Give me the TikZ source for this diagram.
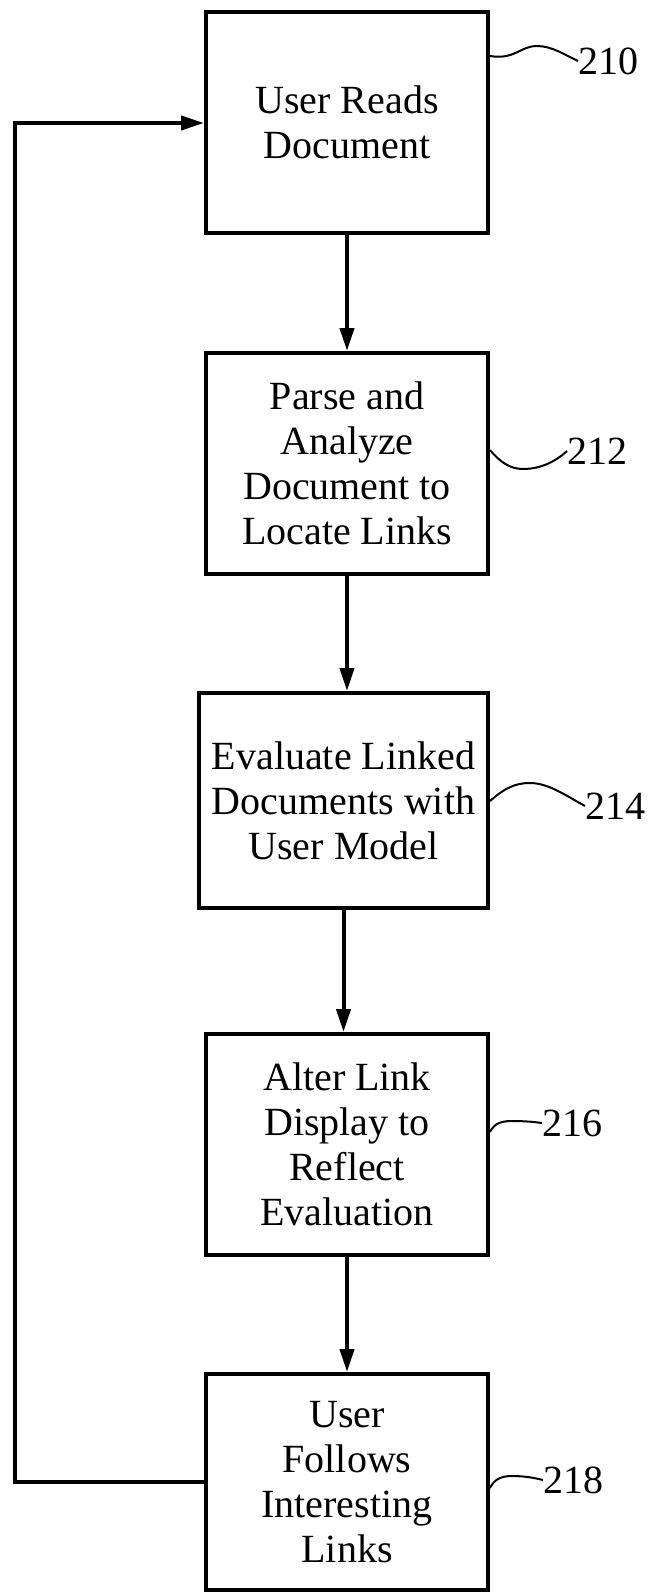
\documentclass[tikz,border=0pt]{standalone}
\usepackage{fontspec}
\setmainfont{Liberation Serif}
\usetikzlibrary{arrows.meta,calc}
\begin{document}
\begin{tikzpicture}[x=1pt,y=-1pt,
  box/.style={draw,line width=4pt,rectangle,inner sep=0pt,align=center,font=\fontsize{40}{45}\selectfont},
  arr/.style={line width=4pt,-{Triangle[length=23pt,width=14pt]}},
  lead/.style={line width=2pt},
  num/.style={anchor=west,inner sep=0pt,font=\fontsize{40}{45}\selectfont}]
\path[use as bounding box] (0,0) rectangle (649,1593);

\node[box,minimum width=282pt,minimum height=221pt] (b210) at (347,122.5) {User Reads\\Document};
\node[box,minimum width=282pt,minimum height=221pt] (b212) at (347,463.5) {Parse and\\Analyze\\Document to\\Locate Links};
\node[box,minimum width=289pt,minimum height=215pt] (b214) at (343.5,800.5) {Evaluate Linked\\Documents with\\User Model};
\node[box,minimum width=282pt,minimum height=221pt] (b216) at (347,1144.5) {Alter Link\\Display to\\Reflect\\Evaluation};
\node[box,minimum width=282pt,minimum height=216pt] (b218) at (347,1482) {User\\Follows\\Interesting\\Links};

\node[num] (l210) at (578,61) {210};
\node[num] (l212) at (567,451) {212};
\node[num] (l214) at (585,806) {214};
\node[num] (l216) at (542,1123) {216};
\node[num] (l218) at (543,1480) {218};

\draw[arr] (b210) -- (b212);
\draw[arr] (b212.south) -- (b212.south |- b214.north);
\draw[arr] (b214.south) -- (b214.south |- b216.north);
\draw[arr] (b216) -- (b218);

\coordinate (lt) at (15,123);
\draw[arr] (b218.west) -- (b218.west -| lt) -- (lt) -- (lt -| b210.west);

\draw[lead] ($(b210.north east)+(0,46)$) .. controls (515,60) and (520,46) .. (537,46) .. controls (552,46) and (565,55) .. (l210.west);
\draw[lead] ($(b212.north east)+(0,99)$) .. controls (500,462) and (510,469) .. (523,469) .. controls (540,469) and (555,462) .. (l212.west);
\draw[lead] ($(b214.north east)+(0,110)$) .. controls (505,788) and (515,783) .. (530,783) .. controls (548,783) and (565,795) .. (l214.west);
\draw[lead] ($(b216.north east)+(0,100)$) .. controls (494,1124) and (500,1121) .. (512,1121) .. controls (525,1121) and (535,1122) .. (l216.west);
\draw[lead] ($(b218.north east)+(0,116)$) .. controls (494,1480) and (500,1476) .. (512,1476) .. controls (525,1476) and (535,1478) .. (l218.west);
\end{tikzpicture}
\end{document}
